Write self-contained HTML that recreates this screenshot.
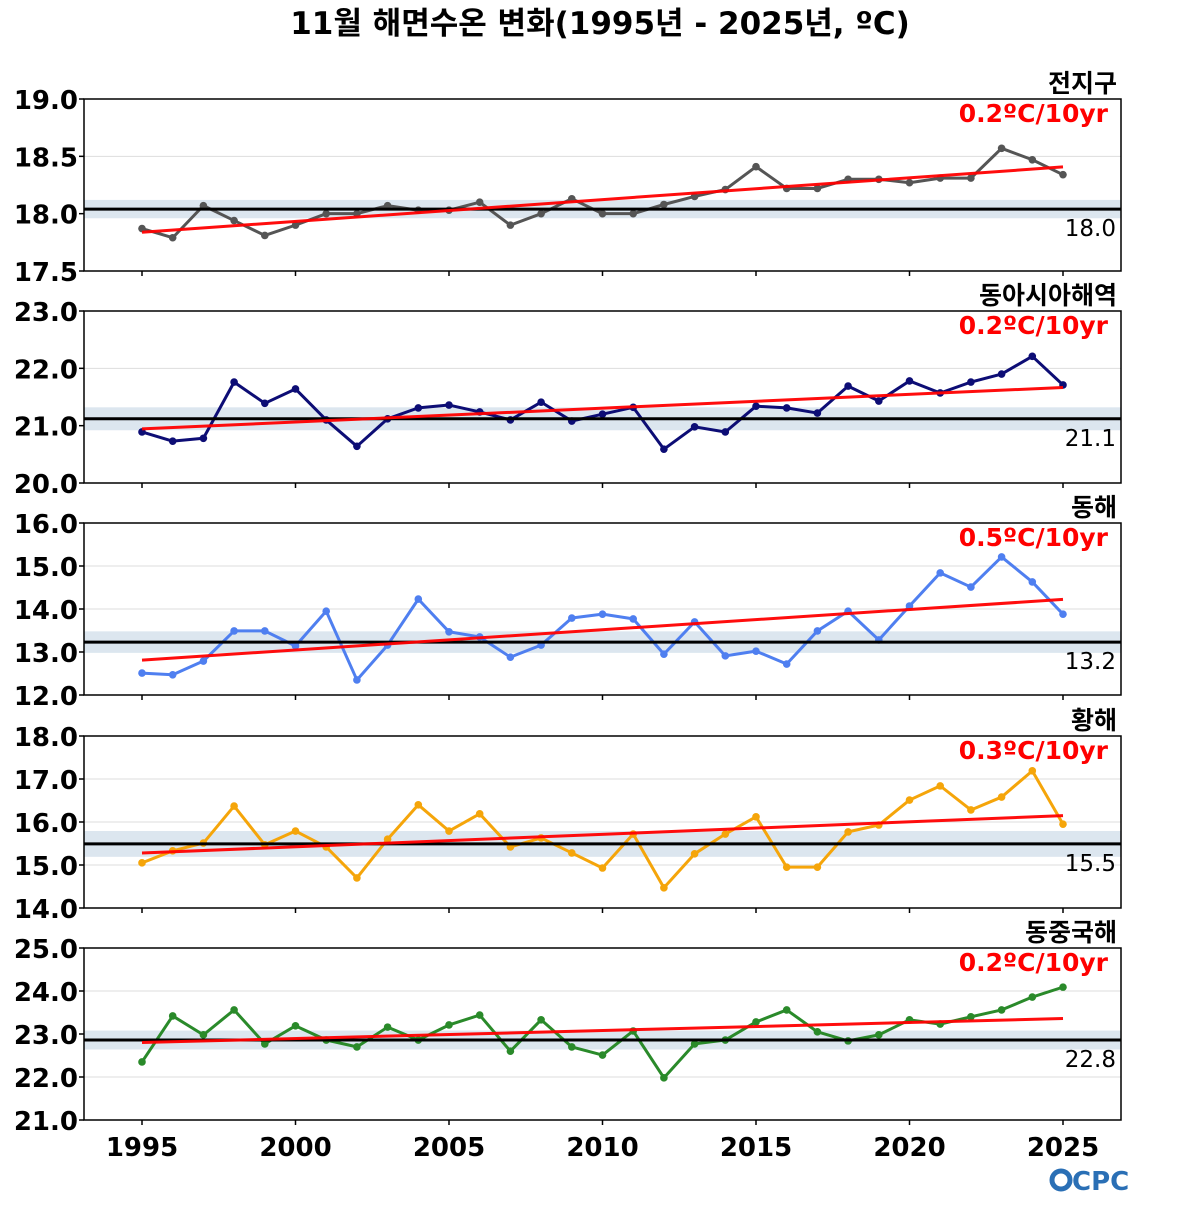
<!DOCTYPE html>
<html><head><meta charset="utf-8"><style>
html,body{margin:0;padding:0;background:#fff}
svg text{font-family:"DejaVu Sans","Liberation Sans","Noto Sans CJK KR",sans-serif}
</style></head><body>
<svg id="c" width="1200" height="1200" viewBox="0 0 1200 1200" xmlns="http://www.w3.org/2000/svg">
<text x="600" y="34" text-anchor="middle" font-size="31" font-weight="bold" font-family="DejaVu Sans, Noto Sans CJK KR, sans-serif">11월 해면수온 변화(1995년 - 2025년, ºC)</text>
<g id="panels"></g>
<g>
<circle cx="1061" cy="1180" r="9" fill="none" stroke="#2a6fb5" stroke-width="5"/>
<text x="1072" y="1190" font-size="26" font-weight="bold" fill="#2a6fb5" font-family="Liberation Sans, sans-serif">CPC</text>
</g>
</svg>
<script>
const years = [];
for (let y = 1995; y <= 2025; y++) years.push(y);
const xTicks = [1995, 2000, 2005, 2010, 2015, 2020, 2025];
const titles = ["전지구", "동아시아해역", "동해", "황해", "동중국해"];
const trendLabels = ["0.2ºC/10yr", "0.2ºC/10yr", "0.5ºC/10yr", "0.3ºC/10yr", "0.2ºC/10yr"];
const colors = ["#555555", "#0d0d75", "#4f7ff0", "#f5a50a", "#2a8a2a"];
const yMins = [17.5, 20, 12, 14, 21];
const yMaxs = [19, 23, 16, 18, 25];
const yTicks0 = [17.5, 18.0, 18.5, 19.0];
const yTicks1 = [20, 21, 22, 23];
const yTicks2 = [12, 13, 14, 15, 16];
const yTicks3 = [14, 15, 16, 17, 18];
const yTicks4 = [21, 22, 23, 24, 25];
const means = [18.04, 21.12, 13.23, 15.49, 22.86];
const meanLabels = ["18.0", "21.1", "13.2", "15.5", "22.8"];
const bands = [0.08, 0.2, 0.25, 0.3, 0.22];
const globalSST = [17.87,17.79,18.07,17.94,17.81,17.90,18.00,18.00,18.07,18.03,18.03,18.10,17.90,18.00,18.13,18.00,18.00,18.08,18.15,18.21,18.41,18.22,18.22,18.30,18.30,18.27,18.31,18.31,18.57,18.47,18.34];
const eastAsiaSST = [20.89,20.73,20.78,21.76,21.39,21.64,21.10,20.64,21.12,21.31,21.36,21.24,21.10,21.41,21.08,21.20,21.32,20.59,20.98,20.89,21.34,21.31,21.22,21.69,21.43,21.78,21.57,21.76,21.90,22.21,21.71];
const eastSeaSST = [12.51,12.47,12.79,13.49,13.49,13.14,13.95,12.35,13.16,14.23,13.47,13.35,12.88,13.16,13.79,13.88,13.77,12.95,13.70,12.91,13.02,12.72,13.49,13.95,13.28,14.07,14.84,14.51,15.21,14.63,13.88];
const yellowSeaSST = [15.05,15.33,15.51,16.37,15.47,15.79,15.42,14.70,15.60,16.40,15.79,16.19,15.42,15.63,15.28,14.93,15.72,14.47,15.26,15.72,16.12,14.95,14.95,15.77,15.93,16.51,16.84,16.28,16.58,17.19,15.95];
const eastChinaSST = [22.35,23.42,22.98,23.56,22.77,23.19,22.86,22.70,23.16,22.86,23.21,23.44,22.60,23.33,22.70,22.51,23.07,21.98,22.77,22.86,23.28,23.56,23.05,22.84,22.98,23.33,23.23,23.40,23.56,23.86,24.09];

const series = [globalSST, eastAsiaSST, eastSeaSST, yellowSeaSST, eastChinaSST];
const tickSets = [yTicks0, yTicks1, yTicks2, yTicks3, yTicks4];
const NS = "http://www.w3.org/2000/svg";
const root = document.getElementById("panels");
const L = 84, R = 1121, X0 = 142, X1 = 1063;
const panelTops = [99, 311, 523, 736, 948], PH = 172;
function xs(yr){ return X0 + (yr - 1995) / 30 * (X1 - X0); }
function mk(tag, attrs, parent){ const e = document.createElementNS(NS, tag); for (const k in attrs) e.setAttribute(k, attrs[k]); (parent||root).appendChild(e); return e; }

series.forEach((data, p) => {
  const top = panelTops[p], bot = top + PH;
  const ys = v => bot - (v - yMins[p]) / (yMaxs[p] - yMins[p]) * PH;
  const g = mk("g", {});
  
  
  tickSets[p].forEach(t => {
    const gl = mk("line", {x1:L, x2:R, y1:ys(t), y2:ys(t), stroke:"#dddddd", "stroke-width":1}, g);
    
    
    mk("line", {x1:L-5, x2:L, y1:ys(t), y2:ys(t), stroke:"#000", "stroke-width":1.5}, g);
    const tl = mk("text", {x:L-6, y:ys(t)+10, "text-anchor":"end", "font-size":26, "font-weight":"bold"}, g);
    tl.textContent = t.toFixed(1);
    
    
  });
  xTicks.forEach(t => { mk("line", {x1:xs(t), x2:xs(t), y1:bot, y2:bot+5, stroke:"#000", "stroke-width":1.5}, g); });
  const band = mk("rect", {x:L, width:R-L, y:ys(means[p]+bands[p]), height:ys(means[p]-bands[p])-ys(means[p]+bands[p]), fill:"#dce6ef"}, g);
  
  
  const pts = data.map((v,i) => xs(years[i]) + "," + ys(v)).join(" ");
  const line = mk("polyline", {points:pts, fill:"none", stroke:colors[p], "stroke-width":3, "stroke-linejoin":"round"}, g);
  
  
  data.forEach((v,i) => {
    const c = mk("circle", {cx:xs(years[i]), cy:ys(v), r:3.8, fill:colors[p]}, g);
    
    
  });
  const ml = mk("line", {x1:L, x2:R, y1:ys(means[p]), y2:ys(means[p]), stroke:"#000", "stroke-width":3}, g);
  
  
  const n = data.length; let sx=0, sy=0, sxx=0, sxy=0;
  data.forEach((v,i)=>{ const x=years[i]; sx+=x; sy+=v; sxx+=x*x; sxy+=x*v; });
  const b = (n*sxy - sx*sy)/(n*sxx - sx*sx), a = (sy - b*sx)/n;
  const tr = mk("line", {x1:xs(1995), x2:xs(2025), y1:ys(a+b*1995), y2:ys(a+b*2025), stroke:"#ff0000", "stroke-width":3, "stroke-opacity":0.95}, g);
  
  
  const fr = mk("rect", {x:L, y:top, width:R-L, height:PH, fill:"none", stroke:"#000", "stroke-width":1.5}, g);
  
  
  const tt = mk("text", {x:1117, y:top-7, "text-anchor":"end", "font-size":25, "font-weight":"bold", "font-family":"DejaVu Sans, Noto Sans CJK KR, sans-serif"}, g);
  tt.textContent = titles[p];
  
  
  const trl = mk("text", {x:1108, y:top+23, "text-anchor":"end", "font-size":25, "font-weight":"bold", fill:"#ff0000"}, g);
  trl.textContent = trendLabels[p];
  
  
  const mlab = mk("text", {x:1116, y:ys(means[p])+27, "text-anchor":"end", "font-size":23}, g);
  mlab.textContent = meanLabels[p];
  
  
});
xTicks.forEach(t => {
  const xl = mk("text", {x:xs(t), y:1156, "text-anchor":"middle", "font-size":26, "font-weight":"bold"});
  xl.textContent = t;
  
  
});
</script>
</body></html>
